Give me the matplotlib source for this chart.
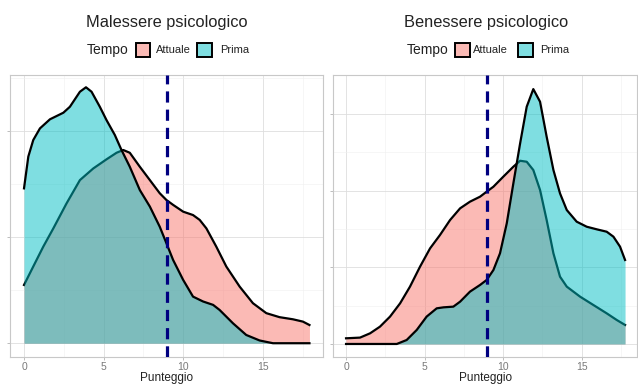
import matplotlib.pyplot as plt
from matplotlib.patches import Rectangle

# Malessere psicologico (left panel) - density curves
mal_prima_x = [0, 0.27, 0.58, 1.00, 1.63, 2.47, 2.88, 3.51, 3.89, 4.24, 4.76, 5.18, 5.70,
               6.12, 6.64, 7.27, 7.90, 8.52, 8.94, 9.36, 9.99, 10.61, 11.24, 11.87, 12.28,
               13.12, 13.95, 14.79, 15.63, 17.92]
mal_prima_y = [0.0731, 0.0881, 0.0959, 0.1014, 0.1057, 0.1088, 0.1116, 0.1187, 0.1208, 0.1187,
               0.1116, 0.1053, 0.0983, 0.0912, 0.0833, 0.0723, 0.0645, 0.0550, 0.0472, 0.0393,
               0.0299, 0.0220, 0.0197, 0.0181, 0.0157, 0.0094, 0.0039, 0.0013, 0.0, 0.0]
mal_att_x = [0, 0.58, 1.21, 1.84, 2.67, 3.51, 4.35, 5.18, 5.81, 6.23, 6.64, 7.27, 7.90, 8.52,
             8.94, 9.36, 9.99, 10.61, 11.03, 11.45, 12.07, 12.70, 13.54, 14.37, 15.21, 16.04,
             16.88, 17.51, 17.92]
mal_att_y = [0.0275, 0.0362, 0.0456, 0.0542, 0.0660, 0.0770, 0.0825, 0.0868, 0.0899, 0.0912,
             0.0899, 0.0833, 0.0770, 0.0708, 0.0676, 0.0653, 0.0621, 0.0605, 0.0582, 0.0542,
             0.0456, 0.0362, 0.0267, 0.0189, 0.0142, 0.0123, 0.0113, 0.0102, 0.0086]

# Benessere psicologico (right panel)
ben_att_x = [0, 0.89, 1.53, 2.16, 2.80, 3.44, 4.07, 4.71, 5.35, 5.98, 6.62, 7.26, 7.89, 8.53,
             8.95, 9.38, 10.01, 10.65, 11.08, 11.50, 11.92, 12.35, 12.77, 13.20, 13.62, 14.05,
             14.90, 15.74, 16.59, 17.23, 17.76]
ben_att_y = [0.0074, 0.0083, 0.0139, 0.0226, 0.0357, 0.0530, 0.0748, 0.1009, 0.1248, 0.1422,
             0.1617, 0.1770, 0.1857, 0.1922, 0.1987, 0.2052, 0.2183, 0.2313, 0.2391, 0.2378,
             0.2270, 0.2009, 0.1617, 0.1183, 0.0878, 0.0748, 0.0617, 0.0509, 0.0400, 0.0313,
             0.0248]
ben_prima_x = [0, 3.23, 3.86, 4.50, 5.13, 5.77, 6.20, 6.83, 7.26, 7.89, 8.53, 8.95, 9.38, 9.80,
               10.23, 10.65, 11.08, 11.50, 11.92, 12.35, 12.77, 13.20, 13.62, 14.05, 14.68,
               15.32, 15.96, 16.59, 17.02, 17.44, 17.76]
ben_prima_y = [0.0, 0.0, 0.0052, 0.0183, 0.0357, 0.0465, 0.0478, 0.0487, 0.0552, 0.0683,
               0.0770, 0.0835, 0.0965, 0.1183, 0.1574, 0.2096, 0.2617, 0.3096, 0.3326, 0.3161,
               0.2704, 0.2270, 0.1965, 0.1748, 0.1596, 0.1530, 0.1496, 0.1465, 0.1400, 0.1270,
               0.1096]

cutoff = 9
titles = ["Malessere psicologico", "Benessere psicologico"]
col_att = "#F8766D"
col_prima = "#00BFC4"

plt.rcParams['font.family'] = ['Liberation Sans', 'DejaVu Sans']

W, H = 638, 385
fig = plt.figure(figsize=(W / 100, H / 100), dpi=100)


def box(l, t, r, b):
    return [l / W, (H - b) / H, (r - l) / W, (b - t) / H]


ax1 = fig.add_axes(box(10, 75, 323, 357))
ax2 = fig.add_axes(box(333, 75, 637, 357))

panels = [
    (ax1, mal_att_x, mal_att_y, mal_prima_x, mal_prima_y,
     (-0.88, 18.77), (-0.0065, 0.1266), [0, 0.05, 0.1], [0.025, 0.075, 0.125]),
    (ax2, ben_att_x, ben_att_y, ben_prima_x, ben_prima_y,
     (-0.83, 18.52), (-0.017, 0.351), [0, 0.1, 0.2, 0.3], [0.05, 0.15, 0.25]),
]

for ax, ax_x, ax_y, pr_x, pr_y, xl, yl, ymaj, ymin in panels:
    ax.fill_between(ax_x, 0, ax_y, color=col_att, alpha=0.5, lw=0, zorder=2)
    ax.plot(ax_x, ax_y, color="black", lw=1.6, zorder=3, solid_joinstyle="round")
    ax.fill_between(pr_x, 0, pr_y, color=col_prima, alpha=0.5, lw=0, zorder=4)
    ax.plot(pr_x, pr_y, color="black", lw=1.6, zorder=5, solid_joinstyle="round")
    ax.axvline(cutoff, color="#000080", lw=2.3, linestyle=(0, (3.5, 2.2)), zorder=6)

    ax.set_xlim(*xl)
    ax.set_ylim(*yl)
    ax.set_xticks([0, 5, 10, 15])
    ax.set_xticks([2.5, 7.5, 12.5, 17.5], minor=True)
    ax.set_yticks(ymaj)
    ax.set_yticks(ymin, minor=True)
    ax.set_yticklabels([])
    ax.grid(which="major", color="#DEDEDE", lw=0.6, zorder=0)
    ax.grid(which="minor", color="#EFEFEF", lw=0.4, zorder=0)
    ax.set_axisbelow(True)
    ax.tick_params(which="major", length=2.2, width=0.6, color="#B3B3B3",
                   labelsize=7.5, labelcolor="#7A7A7A", pad=1.5)
    ax.tick_params(which="minor", length=0)
    for s in ax.spines.values():
        s.set_color("#C8C8C8")
        s.set_linewidth(0.8)

# axis titles, titles and legends placed in figure pixels
legend_pos = [
    (167, 87, (136, 150), 156, (197, 212), 220),
    (486, 407, (455, 470), 473, (518, 533), 540),
]
for title, (cx, tx, pb, px, tb, ptx) in zip(titles, legend_pos):
    fig.text(cx / W, 1 - 381 / H, "Punteggio", ha="center", va="baseline",
             fontsize=8.5, color="#222222")
    fig.text(cx / W, 1 - 22 / H, title, ha="center", va="center", fontsize=11.8, color="#222222")
    fig.text(tx / W, 1 - 50 / H, "Tempo", ha="left", va="center", fontsize=10, color="#222222")
    for (l, r), c in [(pb, col_att), (tb, col_prima)]:
        fig.add_artist(Rectangle((l / W, 1 - 57 / H), (r - l) / W, 14 / H,
                                 transform=fig.transFigure, facecolor=c, alpha=0.5,
                                 edgecolor="none"))
        fig.add_artist(Rectangle((l / W, 1 - 57 / H), (r - l) / W, 14 / H,
                                 transform=fig.transFigure, facecolor="none",
                                 edgecolor="black", lw=1.4))
    fig.text(px / W, 1 - 50 / H, "Attuale", ha="left", va="center", fontsize=8, color="#222222")
    fig.text(ptx / W, 1 - 50 / H, "Prima", ha="left", va="center", fontsize=8, color="#222222")

fig.savefig("out.png", dpi=100)
